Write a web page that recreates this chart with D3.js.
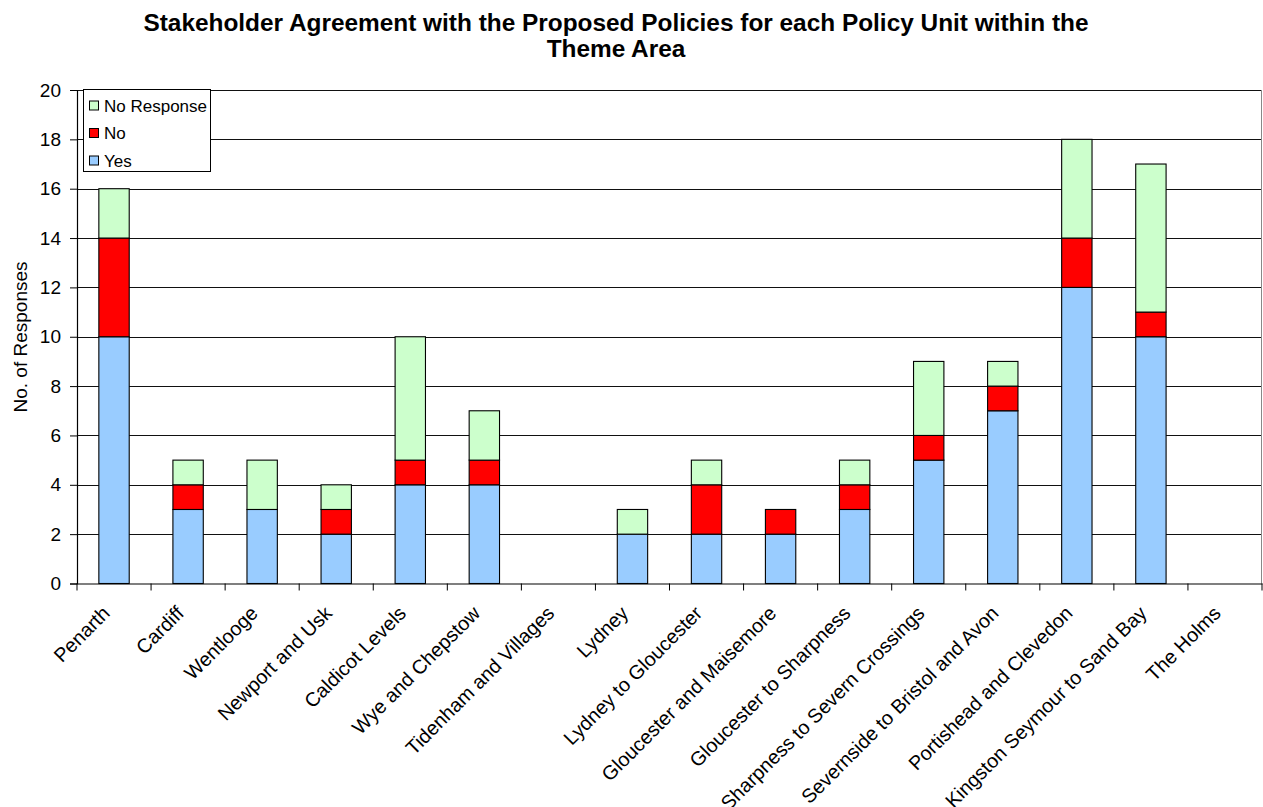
<!DOCTYPE html>
<html><head><meta charset="utf-8">
<script src="https://cdn.jsdelivr.net/npm/d3@7"></script>
<style>body{margin:0;background:#fff}svg{display:block;font-family:Arial,"Liberation Sans",sans-serif}</style>
</head><body><svg id="c" width="1263" height="807"></svg>
<script>
const categories = ["Penarth","Cardiff","Wentlooge","Newport and Usk","Caldicot Levels","Wye and Chepstow","Tidenham and Villages","Lydney","Lydney to Gloucester","Gloucester and Maisemore","Gloucester to Sharpness","Sharpness to Severn Crossings","Severnside to Bristol and Avon","Portishead and Clevedon","Kingston Seymour to Sand Bay","The Holms"];
const yes        = [10,3,3,2,4,4,0,2,2,2,3,5,7,12,10,0];
const no         = [4,1,0,1,1,1,0,0,2,1,1,1,1,2,1,0];
const noResponse = [2,1,2,1,5,2,0,1,1,0,1,3,1,4,6,0];
const seriesNames = ["Yes","No","No Response"];
const seriesColors = ["#99CCFF","#FF0000","#CCFFCC"];
const yTicks = [0,2,4,6,8,10,12,14,16,18,20];

const svg = d3.select("#c");
const L=77, R=1262, T=90, B=583.5;
const x = d3.scaleBand().domain(categories).range([L,R]).paddingInner(0.59).paddingOuter(0.295);
const xb = d3.scaleBand().domain(categories).range([L,R]);
const y = d3.scaleLinear().domain([0,20]).range([B,T]);

// gridlines
svg.append("g").selectAll("line").data(yTicks.slice(1)).join("line")
  .attr("x1",L).attr("x2",R).attr("y1",d=>Math.round(y(d))+0.5).attr("y2",d=>Math.round(y(d))+0.5)
  .attr("stroke","#111").attr("stroke-width",1);
svg.append("line").attr("x1",R-0.5).attr("x2",R-0.5).attr("y1",T).attr("y2",B).attr("stroke","#888");

// stacked bars
const rows = categories.map((c,i)=>({cat:c,"Yes":yes[i],"No":no[i],"No Response":noResponse[i]}));
const stack = d3.stack().keys(seriesNames)(rows);
stack.forEach((s,si)=>{
  svg.append("g").selectAll("rect").data(s.filter(d=>d[1]-d[0]>0)).join("rect")
    .attr("x",d=>x(d.data.cat)).attr("width",x.bandwidth())
    .attr("y",d=>y(d[1])).attr("height",d=>y(d[0])-y(d[1]))
    .attr("fill",seriesColors[si]).attr("stroke","#000").attr("stroke-width",1.1);
});

// y axis
const ya = svg.append("g").attr("transform",`translate(${L},0)`)
  .call(d3.axisLeft(y).tickValues(yTicks).tickSize(7).tickPadding(9));
ya.select(".domain").attr("stroke","#000").attr("stroke-width",1.2);
ya.selectAll(".tick line").attr("stroke","#000");
ya.selectAll("text").attr("font-size",19).attr("fill","#000").attr("font-family","Arial, Liberation Sans, sans-serif");

// x axis
const xa = svg.append("g").attr("transform",`translate(0,${B})`)
  .call(d3.axisBottom(xb).tickSize(0).tickPadding(0));
xa.select(".domain").attr("stroke","#000").attr("stroke-width",1.2);
xa.selectAll(".tick text").remove();
svg.append("g").selectAll("line").data(d3.range(categories.length+1)).join("line")
  .attr("x1",i=>L+i*xb.step()).attr("x2",i=>L+i*xb.step()).attr("y1",B).attr("y2",B+7).attr("stroke","#000");
svg.append("g").selectAll("text").data(categories).join("text")
  .attr("transform",d=>`translate(${xb(d)+xb.bandwidth()/2-3},${B+31}) rotate(-45)`)
  .attr("text-anchor","end").attr("font-size",19.8).attr("fill","#000").text(d=>d);

// titles
svg.append("text").attr("x",616).attr("y",31).attr("text-anchor","middle")
  .attr("font-size",24.4).attr("font-weight","bold").text("Stakeholder Agreement with the Proposed Policies for each Policy Unit within the");
svg.append("text").attr("x",616).attr("y",57).attr("text-anchor","middle")
  .attr("font-size",24.4).attr("font-weight","bold").text("Theme Area");
svg.append("text").attr("transform","translate(27,337) rotate(-90)").attr("text-anchor","middle")
  .attr("font-size",19).text("No. of Responses");

// legend
const lg = svg.append("g");
lg.append("rect").attr("x",83.5).attr("y",89.5).attr("width",127).attr("height",82)
  .attr("fill","#fff").attr("stroke","#000").attr("stroke-width",1);
const legOrder = [2,1,0];
legOrder.forEach((si,k)=>{
  const cy = 105.5 + k*27.5;
  lg.append("rect").attr("x",89.5).attr("y",cy-4.5).attr("width",9).attr("height",9)
    .attr("fill",seriesColors[si]).attr("stroke","#000").attr("stroke-width",1);
  lg.append("text").attr("x",104).attr("y",cy+6).attr("font-size",17).text(seriesNames[si]);
});
</script></body></html>
